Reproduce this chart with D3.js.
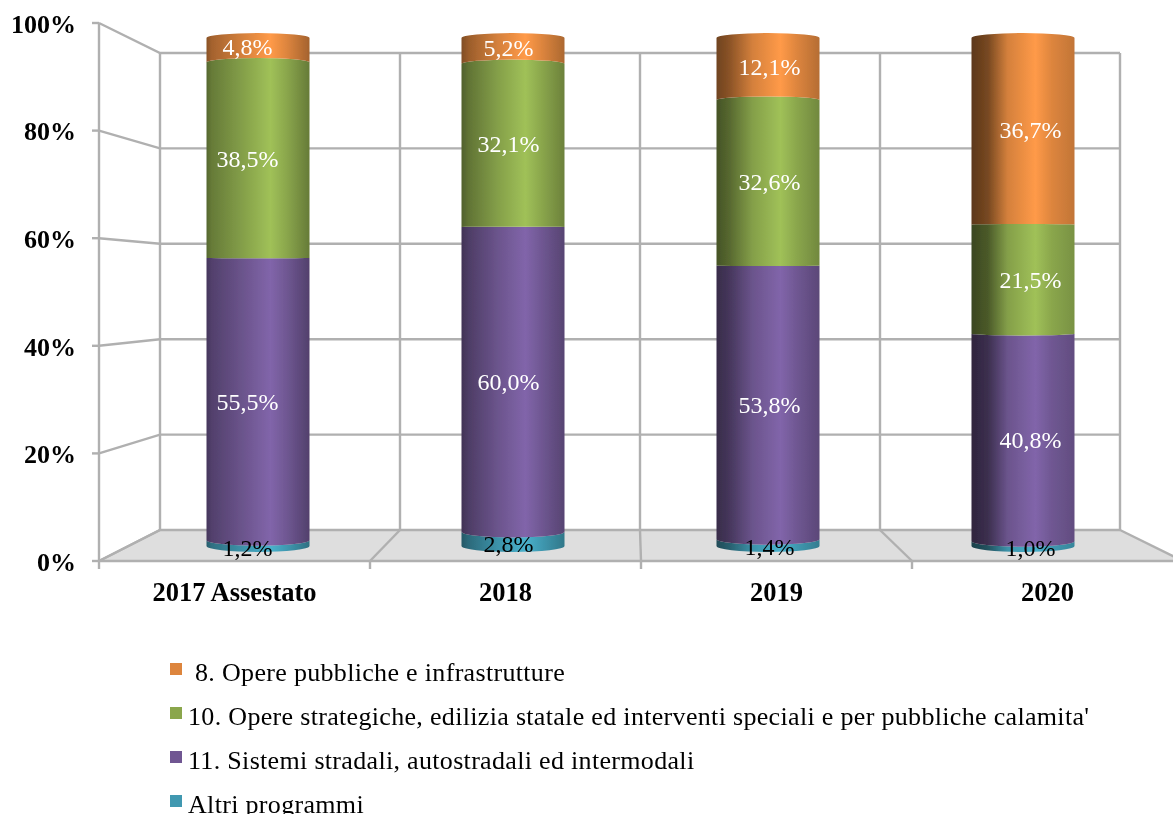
<!DOCTYPE html>
<html>
  <head>
    <title></title>
    <meta charset="UTF-8" />
    <script src="https://cdn.jsdelivr.net/npm/d3@7"></script>
    <style>
      html, body { margin: 0; padding: 0; background: #fff; overflow: hidden; }
      svg { display: block; font-family: 'Liberation Serif', serif; }
    </style>
  </head>
  <body>
    <svg></svg>
    <script>
      // 1. data
      const categories = ['2017 Assestato', '2018', '2019', '2020']
      const altri = [1.2, 2.8, 1.4, 1.0]
      const sistemi = [55.5, 60.0, 53.8, 40.8]
      const opereStrategiche = [38.5, 32.1, 32.6, 21.5]
      const operePubbliche = [4.8, 5.2, 12.1, 36.7]
      const yTicks = [0, 20, 40, 60, 80, 100]
      const seriesNames = [
        'Altri programmi',
        "11. Sistemi stradali, autostradali ed intermodali",
        "10. Opere strategiche, edilizia statale ed interventi speciali e per pubbliche calamita'",
        '8. Opere pubbliche e infrastrutture',
      ]
      const seriesValues = [altri, sistemi, opereStrategiche, operePubbliche]
      const seriesColors = ['#3f98b0', '#6f5792', '#8aa64c', '#dd853e']

      const width = 1173
      const height = 814

      const svg = d3
        .select('svg')
        .attr('width', width)
        .attr('height', height)
        .attr('viewBox', [0, 0, width, height])

      // 2. scales: front plane, back wall, bars, label positions
      const yFront = d3.scaleLinear([0, 100], [561, 23])
      const yBack = d3.scaleLinear([0, 100], [530, 53])
      const yBar = d3.scaleLinear([0, 100], [546, 38])
      const yLabel = d3.scaleLinear([0, 100], [551, 35])
      const xFront = d3.scaleBand(categories, [99, 1183])
      const xBack = d3.scaleBand(categories, [160, 1120])
      const xBar = d3.scaleBand(categories, [130.5, 1150.5])
      const xLabel = d3.scaleBand(categories, [117, 1161])
      const bulge = d3.scaleLinear([0, 60, 100], [6, 0, -5]) // curvatura dei bordi
      const rx = 51.5

      const defs = svg.append('defs')
      defs.append('filter').attr('id', 'soft')
        .append('feGaussianBlur').attr('stdDeviation', 0.6)
      defs.append('filter').attr('id', 'softText')
        .append('feGaussianBlur').attr('stdDeviation', 0.35)

      const gridColor = '#b0b0b0'

      // 3. floor and walls
      const walls = svg.append('g').attr('filter', 'url(#soft)')

      walls.append('path')
        .attr('fill', '#dedede')
        .attr('d', d3.line()([
          [xFront.range()[0], yFront(0)],
          [xBack.range()[0], yBack(0)],
          [xBack.range()[1], yBack(0)],
          [xFront.range()[1], yFront(0)],
        ]))

      const grid = walls.append('g')
        .attr('stroke', gridColor)
        .attr('stroke-width', 2.4)
        .attr('fill', 'none')

      grid.selectAll('.back')
        .data(yTicks)
        .join('path')
        .attr('class', 'back')
        .attr('d', (d) => d3.line()([
          [xFront.range()[0], yFront(d)],
          [xBack.range()[0], yBack(d)],
          [xBack.range()[1], yBack(d)],
        ]))

      const edges = categories.map((c) => xBack(c)).concat(xBack.range()[1])
      const edgesFront = categories.map((c) => xFront(c)).concat(xFront.range()[1])

      grid.selectAll('.vert')
        .data(edges)
        .join('line')
        .attr('class', 'vert')
        .attr('x1', (d) => d)
        .attr('x2', (d) => d)
        .attr('y1', yBack(100))
        .attr('y2', yBack(0))

      grid.selectAll('.floor')
        .data(d3.range(edges.length))
        .join('line')
        .attr('class', 'floor')
        .attr('x1', (i) => edges[i])
        .attr('y1', yBack(0))
        .attr('x2', (i) => edgesFront[i])
        .attr('y2', yFront(0))

      grid.append('line')
        .attr('x1', xFront.range()[0])
        .attr('x2', xFront.range()[0])
        .attr('y1', yFront(100))
        .attr('y2', yFront(0))

      grid.append('line')
        .attr('x1', xFront.range()[0])
        .attr('x2', width)
        .attr('y1', yFront(0))
        .attr('y2', yFront(0))

      grid.selectAll('.ytick')
        .data(yTicks)
        .join('line')
        .attr('class', 'ytick')
        .attr('x1', xFront.range()[0] - 7)
        .attr('x2', xFront.range()[0])
        .attr('y1', (d) => yFront(d))
        .attr('y2', (d) => yFront(d))

      grid.selectAll('.xtick')
        .data(edgesFront.slice(0, 4))
        .join('line')
        .attr('class', 'xtick')
        .attr('x1', (d) => d)
        .attr('x2', (d) => d)
        .attr('y1', yFront(0))
        .attr('y2', yFront(0) + 8)

      // 4. axes text
      svg.append('g')
        .attr('filter', 'url(#softText)')
        .attr('transform', `translate(${xFront.range()[0]},1)`)
        .call(d3.axisLeft(yFront).tickValues(yTicks).tickSize(0).tickPadding(23).tickFormat((d) => d + '%'))
        .call((g) => g.select('.domain').remove())
        .call((g) => g.selectAll('text')
          .attr('font-family', 'Liberation Serif')
          .attr('font-size', 26)
          .attr('font-weight', 'bold')
          .attr('fill', '#000'))

      svg.append('g')
        .attr('filter', 'url(#softText)')
        .attr('transform', `translate(0,${yFront(0)})`)
        .call(d3.axisBottom(xFront).tickSize(0).tickPadding(21))
        .call((g) => g.select('.domain').remove())
        .call((g) => g.selectAll('text')
          .attr('font-family', 'Liberation Serif')
          .attr('font-size', 26.5)
          .attr('font-weight', 'bold')
          .attr('fill', '#000'))

      // 5. cylinders
      const stack = seriesValues.map((vals, s) =>
        vals.map((v, i) => {
          const y0 = d3.sum(seriesValues.slice(0, s), (a) => a[i])
          return { s, i, v, y0, y1: y0 + v }
        })
      )

      const darkFactor = [0.62, 0.58, 0.5, 0.42]
      const darkWidth = [0.05, 0.07, 0.12, 0.16]
      const rightFactor = [0.74, 0.78, 0.82, 0.88]

      stack.flat().forEach((d) => {
        const base = d3.color(seriesColors[d.s])
        const g = defs.append('linearGradient').attr('id', `c${d.s}-${d.i}`)
        const shade = (k) => d3.rgb(base.r * k, base.g * k, base.b * k).formatHex()
        const stops = [
          [0, shade(darkFactor[d.i])],
          [darkWidth[d.i], shade(darkFactor[d.i] + 0.12)],
          [0.35, shade(0.96)],
          [0.62, base.brighter(0.42).formatHex()],
          [0.78, shade(1)],
          [1, shade(rightFactor[d.i])],
        ]
        g.selectAll('stop')
          .data(stops)
          .join('stop')
          .attr('offset', (o) => o[0])
          .attr('stop-color', (o) => o[1])
      })

      const topV = (d) => (d.s === seriesValues.length - 1 ? 100 : d.y1)

      function segment(d) {
        const cx = xBar(categories[d.i]) + xBar.bandwidth() / 2
        const t = yBar(topV(d))
        const b = yBar(d.y0)
        const bt = bulge(topV(d))
        const bb = bulge(d.y0)
        // bordo alto da sinistra a destra, bordo basso da destra a sinistra
        return `M${cx - rx},${t}` +
          `A${rx},${Math.abs(bt)} 0 0 ${bt < 0 ? 1 : 0} ${cx + rx},${t}` +
          `L${cx + rx},${b}` +
          `A${rx},${Math.abs(bb)} 0 0 ${bb > 0 ? 1 : 0} ${cx - rx},${b}Z`
      }

      svg.append('g')
        .attr('filter', 'url(#soft)')
        .selectAll('path')
        .data(stack.flat())
        .join('path')
        .attr('d', segment)
        .attr('fill', (d) => `url(#c${d.s}-${d.i})`)

      // 6. value labels
      const fmt = (v) => v.toFixed(1).replace('.', ',') + '%'

      svg.append('g')
        .attr('filter', 'url(#softText)')
        .attr('font-size', 24)
        .attr('text-anchor', 'middle')
        .selectAll('text')
        .data(stack.flat())
        .join('text')
        .attr('x', (d) => xLabel(categories[d.i]) + xLabel.bandwidth() / 2)
        .attr('y', (d) => yLabel((d.y0 + d.y1) / 2))
        .attr('dy', '0.33em')
        .attr('fill', (d) => (d.s === 0 ? '#000' : '#fff'))
        .text((d) => fmt(d.v))

      // 7. legend
      const yLegend = d3.scalePoint(d3.range(4), [672, 804])
      const legend = svg.append('g')
        .attr('filter', 'url(#softText)')
        .selectAll('g')
        .data(d3.range(3, -1, -1))
        .join('g')
        .attr('transform', (s, i) => `translate(170,${yLegend(i)})`)

      legend.append('rect')
        .attr('x', 0)
        .attr('y', -9)
        .attr('width', 12)
        .attr('height', 12)
        .attr('fill', (s) => seriesColors[s])

      legend.append('text')
        .attr('x', (s) => (s === 3 ? 25 : 18))
        .attr('y', 0)
        .attr('dy', '0.33em')
        .attr('font-size', 26)
        .attr('letter-spacing', 0.32)
        .attr('fill', '#000')
        .text((s) => seriesNames[s])
    </script>
  </body>
</html>
